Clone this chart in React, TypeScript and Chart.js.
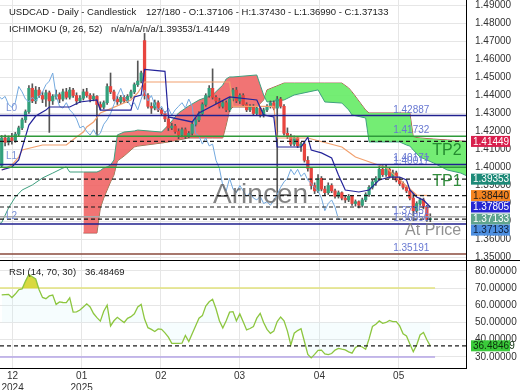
import React, { useEffect, useRef } from 'react';
import { Chart, registerables } from 'chart.js';

Chart.register(...registerables);

const FONT = '"Liberation Sans", Arial, Helvetica, sans-serif';

// ---------------- data ----------------
const opens = [1.4011,1.4164,1.4140,1.4165,1.4150,1.4185,1.4220,1.4265,1.4310,1.4440,
1.4370,1.4430,1.4400,1.4380,1.4415,1.4370,1.4395,1.4405,1.4380,1.4420,
1.4390,1.4430,1.4400,1.4370,1.4385,1.4420,1.4400,1.4380,1.4395,1.4350,
1.4335,1.4360,1.4450,1.4420,1.4380,1.4365,1.4390,1.4370,1.4395,1.4420,
1.4460,1.4480,1.4705,1.4400,1.4340,1.4330,1.4360,1.4320,1.4300,1.4270,
1.4220,1.4230,1.4200,1.4180,1.4210,1.4175,1.4190,1.4240,1.4265,1.4300,
1.4350,1.4400,1.4440,1.4390,1.4370,1.4340,1.4360,1.4320,1.4380,1.4430,
1.4370,1.4400,1.4350,1.4320,1.4340,1.4300,1.4330,1.4290,1.4320,1.4340,
1.4360,1.4330,1.4380,1.4340,1.4190,1.4175,1.4130,1.4165,1.4120,1.4130,
1.4040,1.3995,1.3900,1.3870,1.3940,1.3880,1.3860,1.3900,1.3870,1.3840,
1.3860,1.3830,1.3820,1.3840,1.3800,1.3810,1.3790,1.3820,1.3850,1.3890,
1.3920,1.3940,1.3990,1.3960,1.3990,1.3950,1.3970,1.3930,1.3910,1.3890,
1.3870,1.3830,1.3760,1.3800,1.3820,1.3780,1.37106];

const highs = [1.4178,1.4180,1.4175,1.4190,1.4195,1.4230,1.4275,1.4320,1.4455,1.4465,
1.4450,1.4445,1.4420,1.4430,1.4425,1.4405,1.4430,1.4415,1.4435,1.4440,
1.4445,1.4440,1.4415,1.4400,1.4435,1.4440,1.4410,1.4410,1.4400,1.4365,
1.4370,1.4465,1.4525,1.4430,1.4395,1.4400,1.4400,1.4405,1.4430,1.4470,
1.4592,1.4535,1.4745,1.4410,1.4360,1.4375,1.4370,1.4330,1.4310,1.4280,
1.4245,1.4240,1.4215,1.4220,1.4220,1.4200,1.4250,1.4275,1.4310,1.4360,
1.4410,1.4455,1.4548,1.4400,1.4385,1.4370,1.4370,1.4390,1.4440,1.4445,
1.4410,1.4410,1.4360,1.4350,1.4350,1.4340,1.4340,1.4330,1.4350,1.4370,
1.4370,1.4395,1.4390,1.4350,1.4220,1.4185,1.4175,1.4170,1.4140,1.4140,
1.4060,1.4000,1.3915,1.3960,1.3950,1.3895,1.3915,1.3910,1.3880,1.3870,
1.3865,1.3845,1.3850,1.3845,1.3820,1.3815,1.3830,1.3860,1.3900,1.3930,
1.3950,1.4005,1.4010,1.4015,1.4000,1.3985,1.3980,1.3945,1.3920,1.3900,
1.3880,1.3860,1.3810,1.3830,1.3830,1.3790,1.37430];

const lows = [1.4000,1.4120,1.4125,1.4130,1.4140,1.4175,1.4210,1.4250,1.4300,1.4360,
1.4355,1.4390,1.4360,1.4340,1.4195,1.4350,1.4380,1.4360,1.4370,1.4380,
1.4380,1.4390,1.4350,1.4360,1.4375,1.4390,1.4365,1.4370,1.4180,1.4320,
1.4325,1.4350,1.4410,1.4370,1.4350,1.4355,1.4360,1.4360,1.4385,1.4410,
1.4450,1.4470,1.4380,1.4330,1.4300,1.4320,1.4310,1.4290,1.4255,1.4205,
1.4210,1.4190,1.4160,1.4170,1.4160,1.4165,1.4180,1.4230,1.4255,1.4290,
1.4340,1.4390,1.4380,1.4355,1.4330,1.4330,1.4310,1.4310,1.4370,1.4360,
1.4355,1.4340,1.4310,1.4310,1.4290,1.4290,1.4280,1.4280,1.4310,1.4330,
1.4320,1.3775,1.4330,1.4180,1.4160,1.4120,1.4120,1.4110,1.4090,1.4030,
1.3980,1.3880,1.3855,1.3860,1.3870,1.3845,1.3850,1.3860,1.3830,1.3830,
1.3820,1.3805,1.3810,1.3790,1.3785,1.3775,1.3780,1.3810,1.3840,1.3880,
1.3900,1.3930,1.3950,1.3950,1.3940,1.3940,1.3920,1.3900,1.3880,1.3860,
1.3820,1.3705,1.3750,1.3790,1.3770,1.3700,1.36990];

const closes = [1.4164,1.4140,1.4165,1.4150,1.4185,1.4220,1.4265,1.4310,1.4440,1.4370,
1.4430,1.4400,1.4380,1.4415,1.4370,1.4395,1.4405,1.4380,1.4420,1.4390,
1.4430,1.4400,1.4370,1.4385,1.4420,1.4400,1.4380,1.4395,1.4350,1.4335,
1.4360,1.4450,1.4420,1.4380,1.4365,1.4390,1.4370,1.4395,1.4420,1.4460,
1.4480,1.4525,1.4400,1.4340,1.4330,1.4360,1.4320,1.4300,1.4270,1.4220,
1.4230,1.4200,1.4180,1.4210,1.4175,1.4190,1.4240,1.4265,1.4300,1.4350,
1.4400,1.4440,1.4390,1.4370,1.4340,1.4360,1.4320,1.4380,1.4430,1.4370,
1.4400,1.4350,1.4320,1.4340,1.4300,1.4330,1.4290,1.4320,1.4340,1.4360,
1.4330,1.4380,1.4340,1.4190,1.4175,1.4130,1.4165,1.4120,1.4130,1.4040,
1.3995,1.3900,1.3870,1.3940,1.3880,1.3860,1.3900,1.3870,1.3840,1.3860,
1.3830,1.3820,1.3840,1.3800,1.3810,1.3790,1.3820,1.3850,1.3890,1.3920,
1.3940,1.3990,1.3960,1.3990,1.3950,1.3970,1.3930,1.3910,1.3890,1.3870,
1.3830,1.3760,1.3800,1.3820,1.3780,1.3712,1.37133];

const tenkanIdx = [0,3,5,6,8,10,13,14,20,23,28,29,38,39,41,42,48,49,56,58,67,75,77,80,81,88,90,91,94,97,99,101,105,108,111,114,117,119,120,122,124,126];
const tenkanVal = [1.3986,1.4003,1.4042,1.4108,1.4236,1.4286,1.4319,1.4336,1.4336,1.4364,1.4375,1.4319,1.4319,1.4392,1.4403,1.4545,1.4534,1.4281,1.4253,1.4303,1.4392,1.4375,1.4292,1.4281,1.4114,1.4114,1.4169,1.4097,1.4081,1.4053,1.3958,1.3875,1.3864,1.3875,1.3931,1.3947,1.3947,1.3931,1.3875,1.3836,1.3819,1.37805];

const kijunIdx = [0,3,5,6,12,19,22,24,25,27,29,31,38,40,42,67,68,80,81,90,100,104,109,113,117,122,126];
const kijunVal = [1.3986,1.4014,1.4058,1.4097,1.4125,1.4125,1.4169,1.4197,1.4225,1.4253,1.4303,1.4319,1.4375,1.4414,1.4475,1.4475,1.4340,1.4340,1.4164,1.4164,1.4114,1.4058,1.4025,1.4000,1.3931,1.3847,1.3844];

const cloudIdx = [-1,0,2,4,6,9,12,15,18,19,20,24,28,29,30,31,32,33,34,36,39,40,47,49,52,55,58,62,65,66,67,68,75,77,78,83,86,93,95,100,102,103,107,108,117,119,120,121,123,127,131,135,138];
const spanA = [1.3686,1.3694,1.3775,1.3836,1.3875,1.3903,1.3942,1.3969,1.3997,1.4003,1.3975,1.3975,1.3975,1.3983,1.3997,1.4003,1.4014,1.4042,1.4181,1.4197,1.4203,1.4208,1.4197,1.4236,1.4303,1.4342,1.4375,1.4403,1.4458,1.4492,1.4503,1.4503,1.4514,1.4403,1.4364,1.4375,1.4403,1.4431,1.4364,1.4358,1.4320,1.4292,1.4275,1.4142,1.4142,1.4125,1.4119,1.4097,1.4058,1.4025,1.3986,1.3969,1.3942];
const spanB = [null,null,null,null,null,null,null,null,null,null,null,1.3636,1.3636,1.3775,1.3830,1.3875,1.3920,1.3958,1.4036,1.4064,1.4114,1.4119,1.4136,1.4142,1.4153,1.4164,1.4164,1.4164,1.4164,1.4236,1.4319,1.4336,1.4336,1.4375,1.4431,1.4469,1.4469,1.4469,1.4469,1.4469,1.4442,1.4420,1.4319,1.4303,1.4303,1.4303,1.4303,1.4169,1.4164,1.4158,1.4153,1.4147,1.4142];

const rsiValues = [66.0,66.2,66.3,64.5,66.5,69.0,69.5,74.0,77.8,76.5,
75.2,69.0,64.5,63.8,65.4,65.9,60.5,61.9,61.6,61.5,
64.3,56.0,56.2,57.2,59.0,60.8,59.0,55.2,52.8,50.8,
56.5,60.0,48.0,51.0,53.0,51.5,50.0,52.4,53.4,55.0,
59.0,60.5,52.0,47.0,46.0,44.8,46.3,46.0,44.0,41.5,
37.9,37.9,37.9,38.0,42.5,39.0,43.5,48.0,52.5,54.0,
59.5,62.0,63.5,58.0,51.0,46.8,51.0,56.0,56.3,51.0,
55.0,50.5,45.7,46.5,47.6,52.5,55.3,50.0,46.0,43.7,
45.0,50.5,53.2,51.0,45.0,37.0,43.8,45.3,46.4,39.0,
31.5,29.5,31.5,33.8,34.0,31.8,31.4,32.0,34.0,35.0,
34.5,34.1,33.0,32.2,35.5,36.6,35.8,34.5,40.5,47.7,
49.0,50.9,49.5,50.0,51.2,50.5,50.5,48.0,43.5,42.2,
37.5,33.1,37.0,42.8,44.2,40.0,36.48469];

const levelValues = [1.42887, 1.41732, 1.40171, 1.40017, 1.37257, 1.36856, 1.35191];
const dashedLevels = [1.41449, 1.39353, 1.38440, 1.37805, 1.37133];
const lineNames = ['L0', 'L1', 'L2'];
const lineNameLevels = [1.42887, 1.40171, 1.36856];
const tpNames = ['TP2', 'TP1'];
const tpLevels = [1.41732, 1.40017];
const atPriceLevel = 1.37257;
const tagValues = [1.41449, 1.39353, 1.38440, 1.37805, 1.37133, 1.37133];

const priceTicks = [1.35,1.36,1.37,1.38,1.39,1.40,1.41,1.42,1.43,1.44,1.45,1.46,1.47,1.48,1.49];
const rsiTicks = [30, 40, 50, 60, 70, 80];
const rsiLevels = [70, 30];
const monthTickIdx = [3.2, 23.5, 46.8, 69.9, 93.4, 116.7];
const monthTickLabels = [['12', '2024'], ['01', '2025'], ['02'], ['03'], ['04'], ['05']];

// ---------------- styles / layout ----------------
const CHIKOU_SHIFT = 26;
const X_MIN = -0.5;
const X_MAX = 136.5;
const P_MAX = 1.4930556;
const P_MIN = 1.3486111;
const RSI_MAX = 86.232;
const RSI_MIN = 23.623;
const RSI_LINE_END = 127.4;
const AXIS_W = 54;
const UP = '#33a07c';
const DOWN = '#e8453f';
const levelColors = ['#20208e', '#2f9a3a', '#20208e', '#2f9a3a', '#a9a9a9', '#20208e', '#8a4a3c'];
const tagBg = ['#d81f4c', '#1d8a78', '#f58420', '#2626d2', '#5fa48e', '#4d8fe0'];
const tagFg = ['#ffffff', '#ffffff', '#1a1a1a', '#ffffff', '#ffffff', '#10203a'];
const LEVEL_LABEL_IDX = 115.1;
const TP_LABEL_IDX = 126.6;
const AT_PRICE_IDX = 118.6;
const WATERMARK_IDX = 62.15;
const WATERMARK_PRICE = 1.38028;
const TAG_H = 11;

function hLine(ctx: any, x0: number, x1: number, y: number) {
  ctx.beginPath();
  ctx.moveTo(x0, y);
  ctx.lineTo(x1, y);
  ctx.stroke();
}

function drawTag(ctx: any, cy: number, text: string, bg: string, fg: string) {
  ctx.fillStyle = bg;
  ctx.fillRect(471, cy - TAG_H / 2, 39, TAG_H);
  ctx.fillStyle = fg;
  ctx.font = `10px ${FONT}`;
  ctx.textAlign = 'left';
  ctx.textBaseline = 'middle';
  ctx.fillText(text, 473, cy + 0.5);
}

const mainOverlay = {
  id: 'mainOverlay',
  afterDatasetsDraw(chart: any) {
    const { ctx, chartArea: a } = chart;
    const xs = chart.scales.x;
    const ys = chart.scales.y;
    ctx.save();
    ctx.beginPath();
    ctx.rect(a.left, a.top, a.right - a.left, a.bottom - a.top);
    ctx.clip();

    ctx.font = `28px ${FONT}`;
    ctx.fillStyle = 'rgba(96,96,96,0.78)';
    ctx.textAlign = 'left';
    ctx.textBaseline = 'alphabetic';
    ctx.fillText('Arincen', xs.getPixelForValue(WATERMARK_IDX), ys.getPixelForValue(WATERMARK_PRICE));

    ctx.setLineDash([]);
    levelValues.forEach((v, k) => {
      ctx.strokeStyle = levelColors[k];
      ctx.lineWidth = 1.5;
      hLine(ctx, a.left, a.right, ys.getPixelForValue(v));
    });
    ctx.setLineDash([4, 3]);
    ctx.strokeStyle = '#1c1c1c';
    ctx.lineWidth = 1.2;
    dashedLevels.forEach((v) => hLine(ctx, a.left, a.right, ys.getPixelForValue(v)));
    ctx.setLineDash([]);

    ctx.font = `10px ${FONT}`;
    ctx.fillStyle = '#6878d2';
    const lx = xs.getPixelForValue(LEVEL_LABEL_IDX);
    levelValues.forEach((v) => ctx.fillText(v.toFixed(5), lx, ys.getPixelForValue(v) - 3));
    ctx.fillStyle = '#7a92d6';
    lineNames.forEach((n, k) => ctx.fillText(n, a.left + 6, ys.getPixelForValue(lineNameLevels[k]) - 5));

    ctx.font = `16px ${FONT}`;
    ctx.fillStyle = 'rgba(28,128,40,0.9)';
    const tx = xs.getPixelForValue(TP_LABEL_IDX);
    tpNames.forEach((n, k) => ctx.fillText(n, tx, ys.getPixelForValue(tpLevels[k]) + 19));
    ctx.fillStyle = 'rgba(125,125,125,0.85)';
    ctx.fillText('At Price', xs.getPixelForValue(AT_PRICE_IDX), ys.getPixelForValue(atPriceLevel) + 18);
    ctx.restore();
  },
  afterDraw(chart: any) {
    const { ctx } = chart;
    const ys = chart.scales.y;
    const n = closes.length - 1;
    ctx.save();
    ctx.font = `9.5px ${FONT}`;
    ctx.fillStyle = '#1a1a1a';
    ctx.textAlign = 'left';
    ctx.textBaseline = 'middle';
    ctx.fillText('USDCAD - Daily - Candlestick', 9, 12.5);
    ctx.fillText(`127/180 - O:${opens[n].toFixed(5)} - H:${highs[n].toFixed(5)} - L:${lows[n].toFixed(5)} - C:${closes[n].toFixed(5)}`, 146, 12.5);
    ctx.fillText('ICHIMOKU (9, 26, 52)', 9, 29.5);
    ctx.fillText(`n/a/n/a/n/a/${dashedLevels[1].toFixed(5)}/${dashedLevels[0].toFixed(5)}`, 111, 29.5);

    const tags = tagValues.map((v, k) => ({ v, y: ys.getPixelForValue(v), bg: tagBg[k], fg: tagFg[k] }));
    tags.sort((p, q) => p.y - q.y);
    let prevBottom = -Infinity;
    tags.forEach((t) => {
      const cy = Math.max(t.y, prevBottom + TAG_H / 2);
      drawTag(ctx, cy, t.v.toFixed(5), t.bg, t.fg);
      prevBottom = cy + TAG_H / 2;
    });
    ctx.restore();
  },
};

const rsiOverlay = {
  id: 'rsiOverlay',
  afterDatasetsDraw(chart: any) {
    const { ctx, chartArea: a } = chart;
    const ys = chart.scales.y;
    const last = rsiValues[rsiValues.length - 1];
    ctx.save();
    ctx.setLineDash([4, 3]);
    ctx.strokeStyle = '#1c1c1c';
    ctx.lineWidth = 1.2;
    hLine(ctx, a.left, a.right, ys.getPixelForValue(last));
    ctx.restore();
  },
  afterDraw(chart: any) {
    const { ctx } = chart;
    const ys = chart.scales.y;
    const last = rsiValues[rsiValues.length - 1];
    ctx.save();
    ctx.strokeStyle = '#000';
    ctx.lineWidth = 1;
    hLine(ctx, 0, chart.width, 0.5);
    ctx.font = `9.5px ${FONT}`;
    ctx.fillStyle = '#1a1a1a';
    ctx.textAlign = 'left';
    ctx.textBaseline = 'middle';
    ctx.fillText('RSI (14, 70, 30)', 9, 12);
    ctx.fillText(last.toFixed(5), 85, 12);
    drawTag(ctx, ys.getPixelForValue(last), last.toFixed(5), '#3acb3a', '#0b2e0b');
    ctx.restore();
  },
};

function monthTicks(scale: any) {
  scale.ticks = monthTickIdx.map((v) => ({ value: v }));
}

export default function App() {
  const mainRef = useRef<HTMLCanvasElement>(null);
  const rsiRef = useRef<HTMLCanvasElement>(null);

  useEffect(() => {
    Chart.defaults.font.family = FONT;
    Chart.defaults.font.size = 10;

    const bodies = closes.map((c, i) => ({ x: i, y: [opens[i], c] }));
    const wicks = closes.map((c, i) => ({ x: i, y: [lows[i], highs[i]] }));
    const bodyColors = closes.map((c, i) => (c >= opens[i] ? UP : DOWN));
    const chikou = closes.map((c, i) => ({ x: i - CHIKOU_SHIFT, y: c }));
    const tenkan = tenkanIdx.map((x, k) => ({ x, y: tenkanVal[k] }));
    const kijun = kijunIdx.map((x, k) => ({ x, y: kijunVal[k] }));
    const aPts = cloudIdx.map((x, k) => ({ x, y: spanA[k] }));
    const bPts = cloudIdx.map((x, k) => ({ x, y: spanB[k] })).filter((p) => p.y !== null);

    const main = new Chart(mainRef.current as HTMLCanvasElement, {
      type: 'bar',
      data: {
        datasets: [
          {
            type: 'line', data: aPts, borderColor: '#3f9f7f', borderWidth: 1, pointRadius: 0,
            fill: { target: 1, above: 'rgba(238,92,92,0.85)', below: 'rgba(104,236,104,0.92)' }, order: 5,
          } as any,
          { type: 'line', data: bPts, borderColor: '#a45a50', borderWidth: 1, pointRadius: 0, fill: false, order: 5 } as any,
          { type: 'bar', data: wicks, backgroundColor: '#555555', barThickness: 1, grouped: false, borderWidth: 0, order: 3 } as any,
          { type: 'bar', data: bodies, backgroundColor: bodyColors, barThickness: 2.6, grouped: false, borderWidth: 0, minBarLength: 1, order: 2 } as any,
          { type: 'line', data: chikou, borderColor: '#72a8de', borderWidth: 1, pointRadius: 0, fill: false, order: 1 } as any,
          { type: 'line', data: kijun, borderColor: '#f2a06e', borderWidth: 1.2, pointRadius: 0, fill: false, order: 1 } as any,
          { type: 'line', data: tenkan, borderColor: '#24249a', borderWidth: 1.2, pointRadius: 0, fill: false, order: 0 } as any,
        ],
      },
      options: {
        responsive: false,
        maintainAspectRatio: false,
        animation: false,
        devicePixelRatio: 1,
        events: [],
        layout: { padding: 0 },
        plugins: { legend: { display: false }, tooltip: { enabled: false } },
        scales: {
          x: {
            type: 'linear', min: X_MIN, max: X_MAX, offset: false, bounds: 'data',
            grid: { color: '#e6e6e6', drawTicks: false, offset: false },
            border: { display: false },
            ticks: { display: false },
            afterBuildTicks: monthTicks,
            afterFit: (s: any) => { s.height = 0; s.paddingLeft = 0; s.paddingRight = 0; },
          },
          y: {
            type: 'linear', position: 'right', min: P_MIN, max: P_MAX, bounds: 'data', beginAtZero: false,
            grid: { color: '#e6e6e6', drawTicks: false },
            border: { display: true, color: '#000', width: 1 },
            ticks: { padding: 9, color: '#333', font: { size: 10 }, callback: (v: any) => Number(v).toFixed(5) },
            afterBuildTicks: (s: any) => { s.ticks = priceTicks.map((v) => ({ value: v })); },
            afterFit: (s: any) => { s.width = AXIS_W; s.paddingTop = 0; s.paddingBottom = 0; },
          },
        } as any,
      },
      plugins: [mainOverlay],
    });

    const rsiPts = rsiValues.map((v, i) => ({ x: i, y: v }));
    const bandLine = (v: number) => [{ x: X_MIN, y: v }, { x: RSI_LINE_END, y: v }];

    const rsi = new Chart(rsiRef.current as HTMLCanvasElement, {
      type: 'line',
      data: {
        datasets: [
          { data: rsiPts, borderColor: 'rgba(0,0,0,0)', borderWidth: 0, pointRadius: 0, fill: { target: { value: 50 }, above: 'rgba(200,244,250,0.16)', below: 'rgba(200,244,250,0.16)' }, order: 4 } as any,
          { data: bandLine(rsiLevels[0]), borderColor: '#e2e27c', borderWidth: 1.5, pointRadius: 0, fill: false, order: 2 } as any,
          { data: bandLine(rsiLevels[1]), borderColor: '#b5a5e6', borderWidth: 1.5, pointRadius: 0, fill: false, order: 2 } as any,
          { data: rsiPts, borderColor: '#8dc63f', borderWidth: 1.3, pointRadius: 0, fill: { target: { value: rsiLevels[0] }, above: 'rgba(214,214,44,0.9)', below: 'rgba(0,0,0,0)' }, order: 0 } as any,
        ],
      },
      options: {
        responsive: false,
        maintainAspectRatio: false,
        animation: false,
        devicePixelRatio: 1,
        events: [],
        layout: { padding: 0 },
        plugins: { legend: { display: false }, tooltip: { enabled: false } },
        scales: {
          x: {
            type: 'linear', min: X_MIN, max: X_MAX, offset: false, bounds: 'data',
            grid: { color: '#e6e6e6', drawTicks: false },
            border: { display: true, color: '#000', width: 1 },
            ticks: { padding: 2, color: '#333', font: { size: 10 }, maxRotation: 0, autoSkip: false, callback: (_v: any, i: number) => monthTickLabels[i] },
            afterBuildTicks: monthTicks,
            afterFit: (s: any) => { s.height = 22; s.paddingLeft = 0; s.paddingRight = 0; },
          },
          y: {
            type: 'linear', position: 'right', min: RSI_MIN, max: RSI_MAX, bounds: 'data',
            grid: { color: '#e6e6e6', drawTicks: false },
            border: { display: true, color: '#000', width: 1 },
            ticks: { padding: 9, color: '#333', font: { size: 10 }, callback: (v: any) => Number(v).toFixed(5) },
            afterBuildTicks: (s: any) => { s.ticks = rsiTicks.map((v) => ({ value: v })); },
            afterFit: (s: any) => { s.width = AXIS_W; s.paddingTop = 0; s.paddingBottom = 0; },
          },
        } as any,
      },
      plugins: [rsiOverlay],
    });

    return () => {
      main.destroy();
      rsi.destroy();
    };
  }, []);

  return (
    <div style={{ position: 'fixed', left: 0, top: 0, width: 520, height: 390, background: '#fff' }}>
      <canvas ref={mainRef} width={520} height={260} style={{ display: 'block', width: 520, height: 260 }} />
      <canvas ref={rsiRef} width={520} height={130} style={{ display: 'block', width: 520, height: 130 }} />
    </div>
  );
}
